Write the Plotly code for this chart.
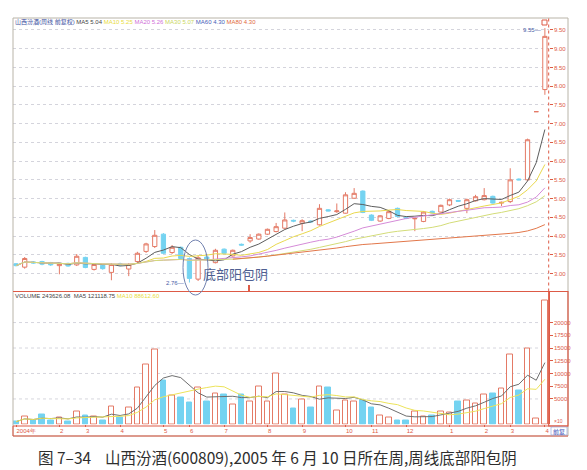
import pandas as pd
import plotly.graph_objects as go

W, H = 587, 470

# ---------------- data (weekly bars) ----------------
week_index = list(range(62))
opens = [3.26, 3.17, 3.31, 3.32, 3.29, 3.21, 3.27, 3.23, 3.43, 3.11,
         3.22, 3.03, 3.26, 3.12, 3.32, 3.59, 3.72, 4.05, 3.56, 3.70,
         3.40, 2.85, 3.44, 3.29, 3.65, 3.47, 3.78, 3.87, 3.92, 4.05,
         4.12, 4.21, 4.42, 4.34, 4.40, 4.30, 4.70, 4.65, 4.61, 5.01,
         5.20, 4.56, 4.40, 4.47, 4.74, 4.49, 4.46, 4.39, 4.66, 4.64,
         4.83, 4.95, 4.74, 4.94, 4.97, 5.06, 4.88, 4.92, 5.52, 5.50,
         7.32, 7.91]
highs = [3.28, 3.44, 3.33, 3.34, 3.31, 3.27, 3.29, 3.52, 3.45, 3.25,
         3.24, 3.27, 3.29, 3.28, 3.58, 3.82, 4.16, 4.08, 3.76, 3.72,
         3.43, 3.48, 3.47, 3.66, 3.67, 3.64, 3.80, 4.05, 4.07, 4.20,
         4.35, 4.63, 4.44, 4.45, 4.42, 4.85, 4.72, 4.87, 5.17, 5.28,
         5.22, 4.58, 4.56, 4.68, 4.76, 4.51, 4.50, 4.66, 4.68, 4.84,
         5.00, 4.96, 5.00, 5.10, 5.28, 5.08, 4.92, 5.81, 5.54, 6.60,
         7.32, 9.55]
lows = [3.19, 3.13, 3.26, 3.22, 3.20, 2.98, 3.18, 3.20, 3.14, 3.08,
        3.10, 2.82, 3.20, 2.93, 3.28, 3.55, 3.68, 3.52, 3.52, 3.38,
        2.76, 2.80, 3.36, 3.27, 3.52, 3.45, 3.74, 3.82, 3.90, 4.03,
        4.10, 4.18, 4.37, 4.13, 4.35, 4.28, 4.66, 4.62, 4.60, 4.99,
        4.61, 4.40, 4.38, 4.45, 4.50, 4.45, 4.13, 4.37, 4.60, 4.62,
        4.80, 4.91, 4.61, 4.92, 4.95, 4.86, 4.80, 4.88, 5.49, 5.48,
        7.32, 7.77]
closes = [3.21, 3.40, 3.28, 3.25, 3.23, 3.25, 3.20, 3.46, 3.16, 3.24,
          3.13, 3.24, 3.23, 3.24, 3.54, 3.79, 4.02, 3.54, 3.70, 3.40,
          2.87, 3.42, 3.38, 3.62, 3.54, 3.62, 3.76, 3.96, 4.05, 4.18,
          4.25, 4.43, 4.40, 4.41, 4.38, 4.74, 4.67, 4.67, 5.10, 5.14,
          4.63, 4.42, 4.54, 4.65, 4.52, 4.47, 4.47, 4.64, 4.62, 4.82,
          4.97, 4.93, 4.97, 5.05, 5.08, 4.88, 4.90, 5.50, 5.50, 6.57,
          7.32, 9.33]
volumes = [5300, 16400, 7200, 19700, 8500, 13100, 5300, 26300, 17100, 15100,
           7200, 34800, 13100, 32800, 72200, 116800, 147700, 86000, 56400, 52500,
           42700, 72200, 44600, 60400, 59100, 40000, 59100, 44600, 74200, 44600,
           100400, 59100, 31500, 49200, 33500, 74200, 72200, 27600, 46600, 45900,
           47900, 34100, 17100, 13800, 8500, 8500, 26300, 15100, 18400, 24900,
           23600, 45900, 46600, 41400, 59700, 61000, 70900, 136500, 66300, 148300,
           11800, 243626]

month_tick_weeks = [0, 5, 8, 12, 17, 20, 24, 29, 33, 38, 41, 45, 50, 54, 57, 61]
month_tick_labels = ["2004年", "2", "3", "4", "5", "6", "7", "8", "9", "10",
                     "11", "12", "1", "2", "3", "4"]
price_ticks = [3.0, 3.5, 4.0, 4.5, 5.0, 5.5, 6.0, 6.5, 7.0, 7.5, 8.0, 8.5, 9.0, 9.5]
vol_ticks = [50000, 75000, 100000, 125000, 150000, 175000, 200000]
vol_tick_labels = ["5000", "7500", "10000", "12500", "15000", "17500", "20000"]
vol_grid = [50000, 100000, 150000, 200000]

ma_windows = [5, 10, 20, 30, 60]
ma_colors = ["#5c5c5c", "#e9d84e", "#d58bd8", "#d3dc78", "#e2774a"]
ma_first_week = {5: 0, 10: 0, 20: 0, 30: 0, 60: 25}
low_week = 20      # week of the 2.76 low
top_week = 61      # week of the 9.55 high

# ---------------- helpers ----------------
def fx(px):
    return px / W

def fy(py):
    return 1 - py / H

RED = "#dd5a46"
UP_LINE = "#e47a66"
DOWN_FILL = "#74d3f1"
TICKFONT = dict(family="Liberation Sans", size=6, color=RED)

x_dom = [fx(5), fx(540.7)]
x_rng = [-0.35, 61.44]

fig = go.Figure()

# price candles
fig.add_trace(go.Candlestick(
    x=week_index, open=opens, high=highs, low=lows, close=closes,
    increasing=dict(fillcolor="#ffffff", line=dict(color=UP_LINE, width=1)),
    decreasing=dict(fillcolor=DOWN_FILL, line=dict(color=DOWN_FILL, width=1)),
    whiskerwidth=0, xaxis="x", yaxis="y", showlegend=False, hoverinfo="skip"))

# moving averages
cs = pd.Series(closes)
for w, c in zip(ma_windows, ma_colors):
    ma = cs.rolling(w, min_periods=1).mean()
    ma[:ma_first_week[w]] = None
    fig.add_trace(go.Scatter(x=week_index, y=ma, mode="lines",
                             line=dict(color=c, width=1), xaxis="x", yaxis="y",
                             showlegend=False, hoverinfo="skip"))

# volume bars
up = [c >= o for o, c in zip(opens, closes)]
fig.add_trace(go.Bar(
    x=week_index, y=volumes, width=0.66,
    marker=dict(color=["#ffffff" if u else DOWN_FILL for u in up],
                line=dict(color=[UP_LINE if u else DOWN_FILL for u in up], width=1)),
    xaxis="x2", yaxis="y2", showlegend=False, hoverinfo="skip"))
vs = pd.Series(volumes)
for w, c in [(5, "#6e6e6e"), (10, "#ece35a")]:
    fig.add_trace(go.Scatter(x=week_index, y=vs.rolling(w, min_periods=1).mean(),
                             mode="lines", line=dict(color=c, width=1),
                             xaxis="x2", yaxis="y2", showlegend=False, hoverinfo="skip"))

# ---------------- layout ----------------
shapes = []
for v in vol_grid:
    shapes.append(dict(type="line", xref="paper", yref="y2", x0=x_dom[0], x1=x_dom[1],
                       y0=v, y1=v, line=dict(color="#d6d6de", width=1, dash="dot"), layer="below"))
shapes += [
    dict(type="rect", xref="paper", yref="paper", x0=fx(5), x1=fx(560), y0=fy(428), y1=fy(10),
         line=dict(color="#b9b4a8", width=1)),
    dict(type="line", xref="paper", yref="paper", x0=fx(540.7), x1=fx(540.7), y0=fy(283.5), y1=fy(10),
         line=dict(color=RED, width=1, dash="dot")),
    dict(type="line", xref="paper", yref="paper", x0=fx(5), x1=fx(560), y0=fy(283.5), y1=fy(283.5),
         line=dict(color=RED, width=1)),
    dict(type="rect", xref="paper", yref="paper", x0=fx(540.7), x1=fx(560), y0=fy(418), y1=fy(283.5),
         line=dict(color=RED, width=1.2)),
    dict(type="line", xref="paper", yref="paper", x0=fx(5), x1=fx(560), y0=fy(418), y1=fy(418),
         line=dict(color=RED, width=1)),
    dict(type="line", xref="paper", yref="paper", x0=fx(5), x1=fx(560), y0=fy(428), y1=fy(428),
         line=dict(color=RED, width=1)),
    dict(type="line", xref="paper", yref="paper", x0=fx(5), x1=fx(5), y0=fy(428), y1=fy(418),
         line=dict(color=RED, width=1)),
    dict(type="circle", xref="paper", yref="paper", x0=fx(175), x1=fx(200), y0=fy(287), y1=fy(232),
         line=dict(color="#6f7fae", width=1)),
    dict(type="rect", xref="paper", yref="paper", x0=fx(534), x1=fx(539), y0=fy(17), y1=fy(12),
         line=dict(color=RED, width=1)),
    dict(type="rect", xref="paper", yref="paper", x0=fx(543), x1=fx(559), y0=fy(427), y1=fy(419),
         line=dict(color="#8aa0d8", width=0.6)),
    dict(type="line", xref="paper", yref="paper", x0=fx(241), x1=fx(241), y0=fy(283), y1=fy(277),
         line=dict(color=RED, width=2)),
]

hdr_font = dict(family="Liberation Sans, Noto Sans CJK SC", size=6)
price_header = ("<span style='color:#3a4ea0'>山西汾酒(周线 前复权)</span> "
                "<span style='color:#444'>MA5 5.04</span> "
                "<span style='color:#e8dc40'>MA10 5.25</span> "
                "<span style='color:#d070d8'>MA20 5.26</span> "
                "<span style='color:#c9d660'>MA30 5.07</span> "
                "<span style='color:#4660b8'>MA60 4.30</span> "
                "<span style='color:#e2683a'>MA80 4.30</span>")
vol_header = ("<span style='color:#444'>VOLUME 243626.08  MA5 121118.75</span> "
              "<span style='color:#e8dc40'>MA10 88612.60</span>")

annotations = [
    dict(text=price_header, xref="paper", yref="paper", x=fx(5), y=fy(14.5),
         xanchor="left", yanchor="middle", showarrow=False, font=hdr_font),
    dict(text=vol_header, xref="paper", yref="paper", x=fx(5), y=fy(288),
         xanchor="left", yanchor="middle", showarrow=False, font=hdr_font),
    dict(text="底部阳包阴", xref="paper", yref="paper", x=fx(193), y=fy(265),
         xanchor="left", yanchor="middle", showarrow=False,
         font=dict(family="Noto Sans CJK SC", size=13, color="#4f5f92")),
    dict(text=f"{lows[low_week]:.2f}—", xref="x", yref="y", x=low_week - 0.35, y=lows[low_week],
         xanchor="right", yanchor="middle", showarrow=False,
         font=dict(family="Liberation Sans", size=6, color="#4a5ca8")),
    dict(text=f"{highs[top_week]:.2f}—", xref="x", yref="y", x=top_week - 0.2, y=highs[top_week] - 0.05,
         xanchor="right", yanchor="middle", showarrow=False,
         font=dict(family="Liberation Sans", size=6, color="#4a5ca8")),
    dict(text="×10", xref="paper", yref="paper", x=fx(550), y=fy(412.5), xanchor="center",
         yanchor="middle", showarrow=False, font=dict(family="Liberation Sans", size=5, color=RED)),
    dict(text="前复", xref="paper", yref="paper", x=fx(551), y=fy(423), xanchor="center",
         yanchor="middle", showarrow=False, font=dict(family="Noto Sans CJK SC", size=6, color="#3850b8")),
    dict(text="图 7–34    山西汾酒(600809),2005 年 6 月 10 日所在周,周线底部阳包阴",
         xref="paper", yref="paper", x=fx(269), y=fy(449), xanchor="center", yanchor="middle",
         showarrow=False, font=dict(family="Noto Sans CJK SC", size=15.5, color="#2e2e2e")),
]

fig.update_layout(
    width=W, height=H, margin=dict(l=0, r=0, t=0, b=0),
    paper_bgcolor="#ffffff", plot_bgcolor="#ffffff",
    showlegend=False, bargap=0,
    xaxis=dict(domain=x_dom, range=x_rng, anchor="y", showticklabels=False, showgrid=False,
               zeroline=False, showline=False, ticks="", rangeslider=dict(visible=False)),
    yaxis=dict(domain=[fy(283.5), fy(10)], range=[2.52, 9.82], side="right", anchor="x",
               tickvals=price_ticks, tickformat=".2f", ticks="outside", ticklen=3, tickcolor=RED,
               tickfont=TICKFONT, showgrid=True, gridcolor="#d4d4dc", griddash="dot", gridwidth=1,
               zeroline=False, showline=False),
    xaxis2=dict(domain=x_dom, range=x_rng, anchor="y2", tickvals=month_tick_weeks,
                ticktext=month_tick_labels, ticks="outside", ticklen=2, tickcolor=RED,
                ticklabelposition="outside right", tickfont=TICKFONT, showgrid=False,
                zeroline=False, showline=False),
    yaxis2=dict(domain=[fy(416.4), fy(283.5)], range=[0, 261000], side="right", anchor="x2",
                tickvals=vol_ticks, ticktext=vol_tick_labels, ticks="outside", ticklen=3,
                tickcolor=RED, tickfont=TICKFONT, showgrid=False, zeroline=False, showline=True,
                linecolor=RED, linewidth=1),
    shapes=shapes, annotations=annotations,
)

fig.write_html("out.html")
